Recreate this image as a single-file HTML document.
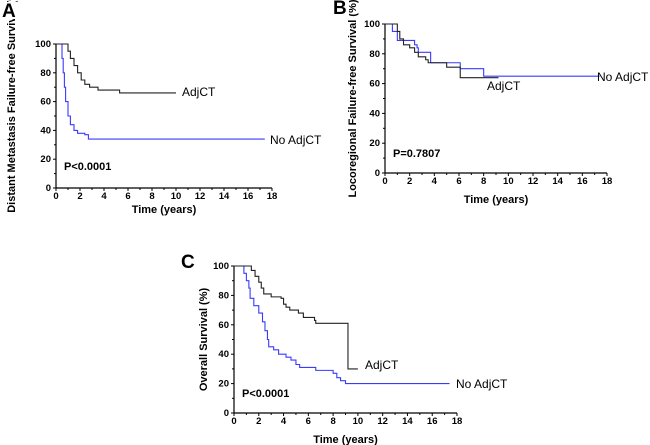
<!DOCTYPE html>
<html><head><meta charset="utf-8"><style>
body{margin:0;background:#fff}
svg{display:block;font-family:"Liberation Sans",Arial,sans-serif}
.tk{font-size:9.5px;font-weight:bold}
.tt{font-size:11px;font-weight:bold}
.pl{font-size:19px;font-weight:bold}
.lb{font-size:12px}
</style></head><body>
<svg id="s" width="650" height="445"></svg>
<script>
// Panel A data
const aAdjT=[0,0.8,1,1.2,1.5,1.8,2.1,2.4,2.8,3.5,5.3,10];
const aAdjS=[100,100,95,90,85,80,75,72,70,68,66,66];
const aNoT=[0,0.3,0.5,0.6,0.7,0.8,1,1.2,1.5,1.8,2.4,2.7,17.4];
const aNoS=[100,100,90,80,70,60,50,44,40,38,37,34,34];
// Panel B data
const bAdjT=[0,0.9,1,1.2,1.5,2,2.4,2.7,3.3,3.5,5,6.1,9.2];
const bAdjS=[100,100,95,90,86,84,81,78,76,74,71,64,64];
const bNoT=[0,0.5,0.6,1,2.4,2.6,2.7,3.7,6.1,8,17.4];
const bNoS=[100,100,95,89,86,84,81,74,70,65,65];
// Panel C data
const cAdjT=[0,1.2,1.4,1.7,2,2.2,2.4,3,3.8,4,4.2,4.5,5.2,5.6,6.5,6.6,9.2,10];
const cAdjS=[100,100,97,93,89,85,81,79,78,74,72,70,68,65,63,61,30,30];
const cNoT=[0,0.6,0.8,1,1.2,1.3,1.6,2,2.3,2.5,2.7,2.8,3.2,3.6,4.2,4.6,5,5.3,6.6,8,8.3,8.6,9,17.4];
const cNoS=[100,100,95,90,85,78,73,68,62,56,50,45,43,40,38,36,33,31,29,27,24,22,20,20];
const xTicks=[0,2,4,6,8,10,12,14,16,18];
const yTicks=[0,20,40,60,80,100];

const NS="http://www.w3.org/2000/svg";
const svg=document.getElementById('s');
function mk(tag,attrs,parent){const e=document.createElementNS(NS,tag);for(const k in attrs)e.setAttribute(k,attrs[k]);(parent||svg).appendChild(e);return e;}
function txt(str,attrs,parent){const e=mk('text',attrs,parent);e.textContent=str;return e;}

function panel(cfg){
  const g=mk('g',{});
  
  
  const X=t=>cfg.x0+(cfg.x1-cfg.x0)*t/18;
  const Y=v=>cfg.y0+(cfg.y1-cfg.y0)*v/100;
  const ax=mk('path',{d:`M${X(0)},${Y(100)}V${Y(0)}H${X(18)}`,stroke:'#000','stroke-width':1.2,fill:'none'},g);
  
  
  xTicks.forEach(t=>{
    mk('line',{x1:X(t),x2:X(t),y1:Y(0),y2:Y(0)+3,stroke:'#000'},g);
    if(t<18)mk('line',{x1:X(t+1),x2:X(t+1),y1:Y(0),y2:Y(0)+2,stroke:'#000'},g);
    const l=txt(t,{x:X(t),y:Y(0)+11,'text-anchor':'middle',class:'tk'},g);
    
    
  });
  yTicks.forEach(v=>{
    mk('line',{x1:X(0)-3,x2:X(0),y1:Y(v),y2:Y(v),stroke:'#000'},g);
    if(v<100)mk('line',{x1:X(0)-2,x2:X(0),y1:Y(v+10),y2:Y(v+10),stroke:'#000'},g);
    const l=txt(v,{x:X(0)-5,y:Y(v)+3,'text-anchor':'end',class:'tk'},g);
    
    
  });
  function curve(T,S,col,name){
    let d=`M${X(T[0])},${Y(S[0])}`;
    for(let i=1;i<T.length;i++){d+=`H${X(T[i])}V${Y(S[i])}`;}
    const p=mk('path',{d:d,stroke:col,'stroke-width':1.1,fill:'none'},g);
    
    
  }
  curve(cfg.noT,cfg.noS,'#3a3aff','curve-no-adjct');
  curve(cfg.adjT,cfg.adjS,'#222','curve-adjct');
  const xt=txt('Time (years)',{x:(X(0)+X(18))/2,y:cfg.xty,'text-anchor':'middle',class:'tt'},g);
  
  
  const yt=txt(cfg.ytitle,{x:0,y:0,'text-anchor':'middle',class:'tt',transform:`translate(${cfg.ytx},${cfg.ytc||(Y(0)+Y(100))/2}) rotate(-90)`},g);
  
  
  const bg=mk('rect',{x:cfg.lx-1,y:cfg.ly-15,width:17,height:17,fill:'#fff'},g);
  const a=txt(cfg.id.toUpperCase(),{x:cfg.lx,y:cfg.ly,class:'pl'},g);
  
  
  const p=txt(cfg.p,{x:X(0)+8,y:cfg.py,class:'tt'},g);
  
  
  const l1=txt('AdjCT',{x:cfg.adjLx,y:cfg.adjLy,class:'lb'},g);
  
  
  const l2=txt('No AdjCT',{x:cfg.noLx,y:cfg.noLy,class:'lb'},g);
  
  
}
panel({id:'a',x0:56,x1:272,y0:188,y1:44,adjT:aAdjT,adjS:aAdjS,noT:aNoT,noS:aNoS,lx:2,ly:17,xty:213,ytx:15,ytc:100,
  ytitle:'Distant Metastasis Failure-free Survival (%)',p:'P<0.0001',py:170,adjLx:182,adjLy:96,noLx:270,noLy:144});
panel({id:'b',x0:385,x1:607,y0:173,y1:24,adjT:bAdjT,adjS:bAdjS,noT:bNoT,noS:bNoS,lx:333,ly:14,xty:203,ytx:356,
  ytitle:'Locoregional Failure-free Survival (%)',p:'P=0.7807',py:157,adjLx:487,adjLy:90,noLx:597,noLy:81});
panel({id:'c',x0:234,x1:457,y0:413,y1:266,adjT:cAdjT,adjS:cAdjS,noT:cNoT,noS:cNoS,lx:181,ly:268,xty:443,ytx:207,
  ytitle:'Overall Survival (%)',p:'P<0.0001',py:397,adjLx:365,adjLy:369,noLx:456,noLy:388});
</script>
</body></html>
